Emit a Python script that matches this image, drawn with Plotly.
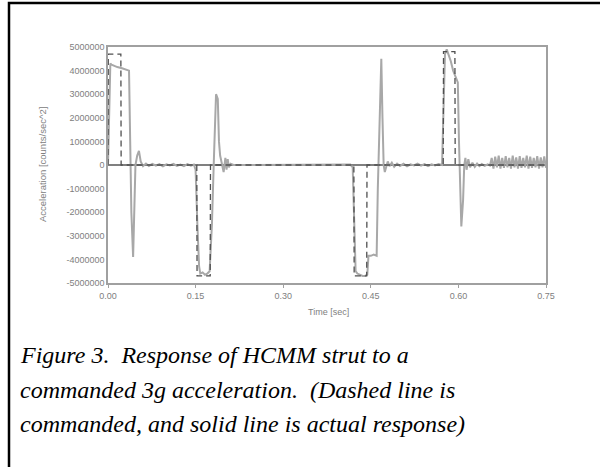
import plotly.graph_objects as go

# Commanded acceleration (dashed line)
cmd_t = [0.000, 0.0005, 0.022, 0.0225, 0.152, 0.1525, 0.175, 0.1755,
         0.421, 0.4215, 0.443, 0.4435, 0.574, 0.5745, 0.594, 0.5945, 0.750]
cmd_v = [0, 4700000, 4700000, 0, 0, -4700000, -4700000, 0,
         0, -4700000, -4700000, 0, 0, 4800000, 4800000, 0, 0]

# Actual response (solid line)
act_t = [0.000, 0.002, 0.004, 0.006, 0.010, 0.016, 0.024, 0.030, 0.036, 0.038, 0.040,
         0.043, 0.045, 0.047, 0.050, 0.053, 0.056, 0.060, 0.065, 0.070, 0.076, 0.082,
         0.088, 0.094, 0.100, 0.106, 0.112, 0.118, 0.124, 0.130, 0.136, 0.142, 0.147,
         0.150, 0.153, 0.156, 0.158, 0.162, 0.166, 0.170, 0.174, 0.178, 0.181, 0.183,
         0.185, 0.188, 0.190, 0.192, 0.195, 0.198, 0.201, 0.203, 0.205, 0.207, 0.210,
         0.215, 0.230, 0.260, 0.300, 0.340, 0.380, 0.415, 0.419, 0.422, 0.424, 0.427,
         0.431, 0.436, 0.440, 0.444, 0.446, 0.450, 0.455, 0.460, 0.462, 0.465, 0.468,
         0.470, 0.472, 0.474, 0.476, 0.479, 0.482, 0.486, 0.490, 0.495, 0.500, 0.506,
         0.512, 0.518, 0.524, 0.530, 0.536, 0.542, 0.548, 0.554, 0.560, 0.566, 0.572,
         0.575, 0.577, 0.580, 0.583, 0.587, 0.591, 0.595, 0.599, 0.601, 0.603, 0.605,
         0.608, 0.610, 0.612, 0.614, 0.617, 0.620, 0.624, 0.628, 0.632, 0.636, 0.640,
         0.645, 0.650, 0.654, 0.657, 0.660, 0.663, 0.666, 0.669, 0.672, 0.675, 0.678,
         0.681, 0.684, 0.687, 0.690, 0.693, 0.696, 0.699, 0.702, 0.705, 0.708, 0.711,
         0.714, 0.717, 0.720, 0.723, 0.726, 0.729, 0.732, 0.735, 0.738, 0.741, 0.744,
         0.747, 0.750]
act_v = [0, 1800000, 4300000, 4250000, 4200000, 4150000, 4100000, 4050000, 4000000,
         1000000, -2000000, -3900000, -2000000, 0, 400000, 600000, 150000, -50000, 60000,
         -40000, 50000, -30000, 40000, -60000, 30000, -20000, 50000, -40000, 20000,
         -50000, 40000, -30000, 20000, -200000, -2500000, -4300000, -4600000, -4550000,
         -4650000, -4600000, -4500000, -2500000, 0, 1500000, 3000000, 2800000, 1000000,
         400000, 0, -300000, 300000, -200000, 250000, -100000, 50000, 0, 0, 0, 0, 0,
         0, 20000, -100000, -2500000, -4500000, -4600000, -4650000, -4700000, -4700000,
         -4650000, -3850000, -3850000, -3800000, -3850000, -1000000, 2000000, 4500000,
         2000000, 0, -300000, -100000, 150000, -50000, 100000, -80000, 60000, -40000,
         50000, -60000, 30000, -20000, 60000, -30000, 40000, -50000, 30000, -20000,
         40000, 0, 2500000, 4700000, 4900000, 4700000, 4400000, 4000000, 3700000,
         3500000, 1000000, -1500000, -2600000, -1500000, 0, 300000, -200000, 250000,
         -100000, 100000, -80000, 60000, -50000, 40000, -40000, 30000, -20000, 300000,
         -150000, 350000, -100000, 400000, -150000, 300000, -120000, 380000, -100000,
         300000, -150000, 400000, -100000, 320000, -150000, 380000, -120000, 300000,
         -100000, 400000, -150000, 350000, -120000, 300000, -100000, 380000, -150000,
         320000, -100000, 360000, -120000, 300000, 0]

x_ticks = [0.00, 0.15, 0.30, 0.45, 0.60, 0.75]
x_tick_labels = ["0.00", "0.15", "0.30", "0.45", "0.60", "0.75"]
y_ticks = [5000000, 4000000, 3000000, 2000000, 1000000, 0, -1000000, -2000000,
           -3000000, -4000000, -5000000]
y_tick_labels = [str(v) for v in y_ticks]

x_title = "Time [sec]"
y_title = "Acceleration [counts/sec^2]"
caption_lines = [
    "Figure 3.  Response of HCMM strut to a",
    "commanded 3g acceleration.  (Dashed line is",
    "commanded, and solid line is actual response)",
]

L, R, T, B = 108, 54, 47, 184
W, H = 600, 467
pw = W - L - R
ph = H - T - B


def px(xpix):
    return (xpix - L) / pw


def py(ypix):
    return (H - B - ypix) / ph


fig = go.Figure()
fig.add_trace(go.Scatter(x=act_t, y=act_v, mode="lines",
                         line=dict(color="#a8a8a8", width=2), showlegend=False))
fig.add_trace(go.Scatter(x=cmd_t, y=cmd_v, mode="lines",
                         line=dict(color="#505050", width=1.3, dash="6px,4px"),
                         showlegend=False))

tick_font = dict(family="Liberation Sans", size=9, color="#808080")
fig.update_xaxes(range=[0, 0.75], tickvals=x_ticks, ticktext=x_tick_labels,
                 showgrid=False, zeroline=False, showline=True, linecolor="#a0a0a0",
                 linewidth=1.5, mirror=True, ticks="outside", ticklen=3,
                 tickcolor="#a0a0a0", tickfont=tick_font)
fig.update_yaxes(range=[-5000000, 5000000], tickvals=y_ticks, ticktext=y_tick_labels,
                 showgrid=False, zeroline=True, zerolinecolor="#808080",
                 zerolinewidth=1.5, showline=True, linecolor="#a0a0a0",
                 linewidth=1.5, mirror=True, ticks="", ticklen=0,
                 tickfont=tick_font)

annotations = [
    dict(x=px(328), y=py(312), xref="paper", yref="paper", text=x_title,
         showarrow=False, font=dict(family="Liberation Sans", size=9, color="#808080"),
         xanchor="center", yanchor="middle"),
    dict(x=px(42), y=py(165), xref="paper", yref="paper", text=y_title,
         showarrow=False, textangle=-90,
         font=dict(family="Liberation Sans", size=9.5, color="#808080"),
         xanchor="center", yanchor="middle"),
]
for i, line in enumerate(caption_lines):
    annotations.append(dict(x=px(18), y=py(355 + 34.5 * i), xref="paper", yref="paper",
                            text=line, showarrow=False, xanchor="left",
                            yanchor="middle",
                            font=dict(family="Liberation Serif", size=24,
                                      color="#000000", style="italic")))

fig.update_layout(
    width=W, height=H,
    margin=dict(l=L, r=R, t=T, b=B),
    paper_bgcolor="white", plot_bgcolor="white",
    annotations=annotations,
    shapes=[dict(type="rect", xref="paper", yref="paper",
                 x0=px(9), x1=px(640), y0=py(520), y1=py(3),
                 line=dict(color="black", width=2.5), layer="above")],
)

fig.write_html("out.html", config={"displayModeBar": False},
               post_script="document.body.style.margin='0';"
                           "document.body.style.overflow='hidden';")
